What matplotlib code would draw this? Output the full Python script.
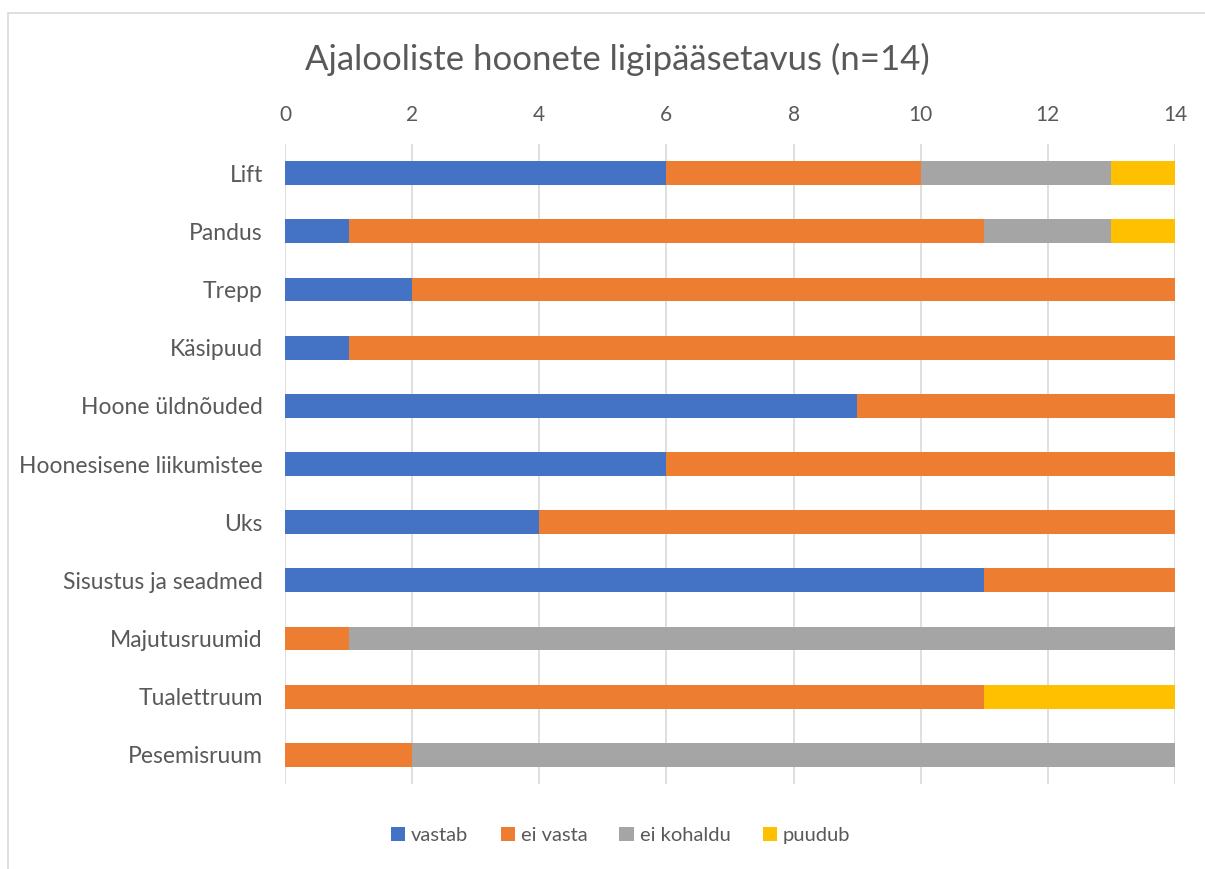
import matplotlib.pyplot as plt
from matplotlib.patches import Rectangle
import numpy as np

# Data
categories = ["Lift", "Pandus", "Trepp", "Käsipuud", "Hoone üldnõuded",
              "Hoonesisene liikumistee", "Uks", "Sisustus ja seadmed",
              "Majutusruumid", "Tualettruum", "Pesemisruum"]
vastab = [6, 1, 2, 1, 9, 6, 4, 11, 0, 0, 0]
ei_vasta = [4, 10, 12, 13, 5, 8, 10, 3, 1, 11, 2]
ei_kohaldu = [3, 2, 0, 0, 0, 0, 0, 0, 13, 0, 12]
puudub = [1, 1, 0, 0, 0, 0, 0, 0, 0, 3, 0]

series = [("vastab", vastab, "#4472C4"),
          ("ei vasta", ei_vasta, "#ED7D31"),
          ("ei kohaldu", ei_kohaldu, "#A5A5A5"),
          ("puudub", puudub, "#FFC000")]

plt.rcParams['font.family'] = ['Lato', 'DejaVu Sans']
text_color = "#595959"

fig = plt.figure(figsize=(12.05, 8.69), dpi=100)
ax = fig.add_axes([0.2365, 0.0978, 0.7386, 0.7365])

y = np.arange(len(categories))
left = np.zeros(len(categories))
for name, vals, color in series:
    ax.barh(y, vals, left=left, height=0.41, color=color, label=name, zorder=3)
    left += np.array(vals)

ax.set_ylim(len(categories) - 0.5, -0.5)
ax.set_xlim(0, 14)
ax.set_xticks(range(0, 15, 2))
ax.set_yticks(y)
ax.set_yticklabels(categories)
ax.xaxis.tick_top()
ax.tick_params(axis="both", length=0, colors=text_color)
ax.tick_params(axis="x", pad=14, labelsize=15)
ax.tick_params(axis="y", pad=16, labelsize=16.5)
ax.grid(axis="x", color="#D9D9D9", linewidth=1.2, zorder=0)
for s in ax.spines.values():
    s.set_visible(False)

fig.text(0.5124, 0.932, "Ajalooliste hoonete ligipääsetavus (n=14)",
         ha="center", va="center", fontsize=25, color=text_color)

leg = fig.legend(loc="center", bbox_to_anchor=(0.515, 0.039), ncol=4, frameon=False,
                 fontsize=14.5, handlelength=0.7, handleheight=0.7, handletextpad=0.3,
                 columnspacing=1.6)
for t in leg.get_texts():
    t.set_color(text_color)

fig.patches.append(Rectangle((8 / 1205, -0.1), 1.2, 1 - 13 / 869 + 0.1,
                             transform=fig.transFigure, fill=False,
                             edgecolor="#D9D9D9", linewidth=1.2))

fig.savefig("out.png", dpi=100)
